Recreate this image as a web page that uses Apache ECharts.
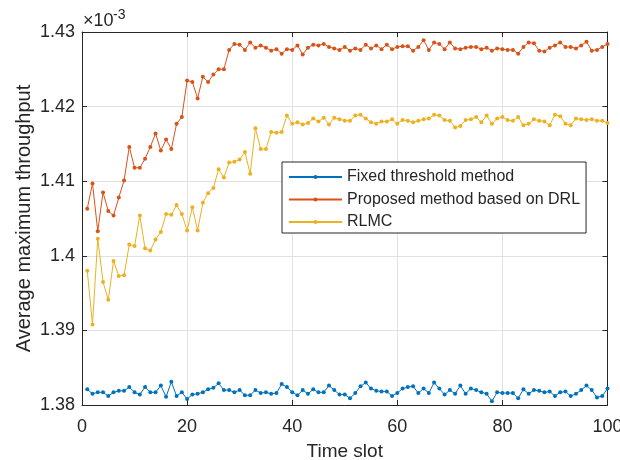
<!DOCTYPE html>
<html>
<head>
<meta charset="utf-8">
<script src="https://cdn.jsdelivr.net/npm/echarts@6/dist/echarts.min.js"></script>
<style>html,body{margin:0;padding:0;background:#fff;}#chart{width:620px;height:460px;}</style>
</head>
<body>
<div id="chart"></div>
<script>
const timeSlots = [1,2,3,4,5,6,7,8,9,10,11,12,13,14,15,16,17,18,19,20,21,22,23,24,25,26,27,28,29,30,31,32,33,34,35,36,37,38,39,40,41,42,43,44,45,46,47,48,49,50,51,52,53,54,55,56,57,58,59,60,61,62,63,64,65,66,67,68,69,70,71,72,73,74,75,76,77,78,79,80,81,82,83,84,85,86,87,88,89,90,91,92,93,94,95,96,97,98,99,100];
const seriesNames = ['Fixed threshold method', 'Proposed method based on DRL', 'RLMC'];
const fixedThreshold = [1.3821,1.3815,1.3817,1.3817,1.3812,1.3817,1.3819,1.3819,1.3824,1.3817,
1.3814,1.3824,1.3817,1.3817,1.3826,1.3811,1.3831,1.3812,1.3817,1.3808,
1.3814,1.3815,1.3817,1.3821,1.3823,1.3829,1.3820,1.3820,1.3817,1.3820,
1.3813,1.3813,1.3820,1.3816,1.3817,1.3815,1.3816,1.3828,1.3824,1.3817,
1.3813,1.3820,1.3815,1.3821,1.3817,1.3817,1.3826,1.3820,1.3814,1.3814,
1.3809,1.3816,1.3825,1.3830,1.3822,1.3819,1.3818,1.3818,1.3812,1.3816,
1.3822,1.3824,1.3825,1.3816,1.3822,1.3816,1.3830,1.3822,1.3814,1.3820,
1.3815,1.3826,1.3815,1.3822,1.3820,1.3817,1.3815,1.3805,1.3817,1.3816,
1.3816,1.3816,1.3809,1.3821,1.3815,1.3820,1.3819,1.3817,1.3818,1.3812,
1.3817,1.3818,1.3812,1.3815,1.3820,1.3826,1.3820,1.3810,1.3812,1.3822];
const proposedDRL = [1.4063,1.4097,1.4033,1.4085,1.4060,1.4054,1.4078,1.4101,1.4146,1.4118,
1.4118,1.4130,1.4146,1.4164,1.4141,1.4156,1.4143,1.4177,1.4186,1.4235,
1.4233,1.4211,1.4240,1.4233,1.4243,1.4250,1.4250,1.4276,1.4284,1.4283,
1.4276,1.4286,1.4279,1.4282,1.4279,1.4275,1.4277,1.4271,1.4277,1.4276,
1.4282,1.4270,1.4279,1.4283,1.4282,1.4284,1.4280,1.4278,1.4276,1.4280,
1.4275,1.4278,1.4276,1.4283,1.4278,1.4282,1.4277,1.4283,1.4277,1.4280,
1.4281,1.4281,1.4275,1.4280,1.4289,1.4276,1.4286,1.4284,1.4277,1.4286,
1.4278,1.4277,1.4279,1.4280,1.4280,1.4277,1.4279,1.4275,1.4278,1.4277,
1.4276,1.4276,1.4271,1.4280,1.4286,1.4285,1.4275,1.4274,1.4279,1.4282,
1.4286,1.4280,1.4280,1.4278,1.4282,1.4287,1.4275,1.4276,1.4280,1.4284];
const rlmc = [1.3980,1.3908,1.4023,1.3965,1.3941,1.3993,1.3973,1.3974,1.4015,1.4013,
1.4054,1.4010,1.4007,1.4022,1.4032,1.4056,1.4055,1.4068,1.4056,1.4034,
1.4065,1.4034,1.4071,1.4084,1.4091,1.4116,1.4105,1.4125,1.4126,1.4129,
1.4139,1.4110,1.4171,1.4143,1.4143,1.4166,1.4165,1.4166,1.4188,1.4177,
1.4179,1.4176,1.4178,1.4184,1.4180,1.4185,1.4176,1.4185,1.4183,1.4181,
1.4181,1.4188,1.4189,1.4184,1.4179,1.4177,1.4180,1.4180,1.4183,1.4177,
1.4182,1.4181,1.4179,1.4181,1.4183,1.4184,1.4189,1.4188,1.4182,1.4181,
1.4172,1.4174,1.4182,1.4183,1.4186,1.4179,1.4188,1.4177,1.4184,1.4186,
1.4182,1.4181,1.4186,1.4175,1.4177,1.4183,1.4181,1.4180,1.4175,1.4189,
1.4187,1.4177,1.4175,1.4184,1.4183,1.4182,1.4183,1.4181,1.4181,1.4178];
const xTicks = [0, 20, 40, 60, 80, 100];
const yTicks = [1.38, 1.39, 1.40, 1.41, 1.42, 1.43];

const FONT = '"Liberation Sans", Arial, Helvetica, sans-serif';
const AX = '#262626';
const colors = ['#0072BD', '#D95319', '#EDB120'];
const allValues = [fixedThreshold, proposedDRL, rlmc];

const chart = echarts.init(document.getElementById('chart'), null, {renderer: 'canvas'});

function xAxisCfg(pos, labels) {
  return {
    type: 'value', position: pos, min: xTicks[0], max: xTicks[xTicks.length-1], interval: xTicks[1]-xTicks[0],
    axisLine: {show: true, onZero: false, lineStyle: {color: AX, width: 1}},
    axisTick: {show: true, inside: true, length: 5, lineStyle: {color: AX}},
    axisLabel: {show: labels, color: AX, fontSize: 18, fontFamily: FONT, margin: 13},
    splitLine: {show: labels, lineStyle: {color: '#e1e1e1', width: 1}},
    name: labels ? 'Time slot' : '', nameLocation: 'middle', nameGap: 37, nameMoveOverlap: false,
    nameTextStyle: {color: AX, fontSize: 19, fontFamily: FONT}
  };
}
function yAxisCfg(pos, labels) {
  return {
    type: 'value', position: pos, min: yTicks[0], max: yTicks[yTicks.length-1], interval: 0.01,
    axisLine: {show: true, onZero: false, lineStyle: {color: AX, width: 1}},
    axisTick: {show: true, inside: true, length: 5, lineStyle: {color: AX}},
    axisLabel: {show: labels, color: AX, fontSize: 18, fontFamily: FONT, margin: 7,
      formatter: v => String(+v.toFixed(2))},
    splitLine: {show: labels, lineStyle: {color: '#e1e1e1', width: 1}},
    name: labels ? 'Average maximum throughput' : '', nameLocation: 'middle', nameGap: 48, nameMoveOverlap: false,
    nameTextStyle: {color: AX, fontSize: 20, fontFamily: FONT}
  };
}

chart.setOption({
  animation: false,
  backgroundColor: '#fff',
  grid: {left: 82, right: 12.5, top: 32, bottom: 55, containLabel: false, outerBoundsMode: 'none'},
  xAxis: [xAxisCfg('bottom', true), xAxisCfg('top', false)],
  yAxis: [yAxisCfg('left', true), yAxisCfg('right', false)],
  legend: {
    left: 282, top: 162, orient: 'vertical',
    data: seriesNames,
    itemWidth: 53, itemHeight: 5, itemGap: 6.5,
    padding: [7, 6, 3, 6],
    borderColor: AX, borderWidth: 1, backgroundColor: '#fff',
    textStyle: {color: AX, fontSize: 16, fontFamily: FONT, lineHeight: 16}
  },
  graphic: [
    {type: 'text', left: 83, top: 12, style: {text: '×10', fontSize: 18, fontFamily: FONT, fill: AX}},
    {type: 'text', left: 113, top: 8, style: {text: '-3', fontSize: 14, fontFamily: FONT, fill: AX}}
  ],
  series: seriesNames.map((name, i) => ({
    name: name, type: 'line', xAxisIndex: 0, yAxisIndex: 0,
    data: timeSlots.map((t, k) => [t, allValues[i][k]]),
    symbol: 'circle', symbolSize: 4, showSymbol: true,
    lineStyle: {color: colors[i], width: 1},
    itemStyle: {color: colors[i]},
    z: 2 + i
  }))
});
</script>
</body>
</html>
